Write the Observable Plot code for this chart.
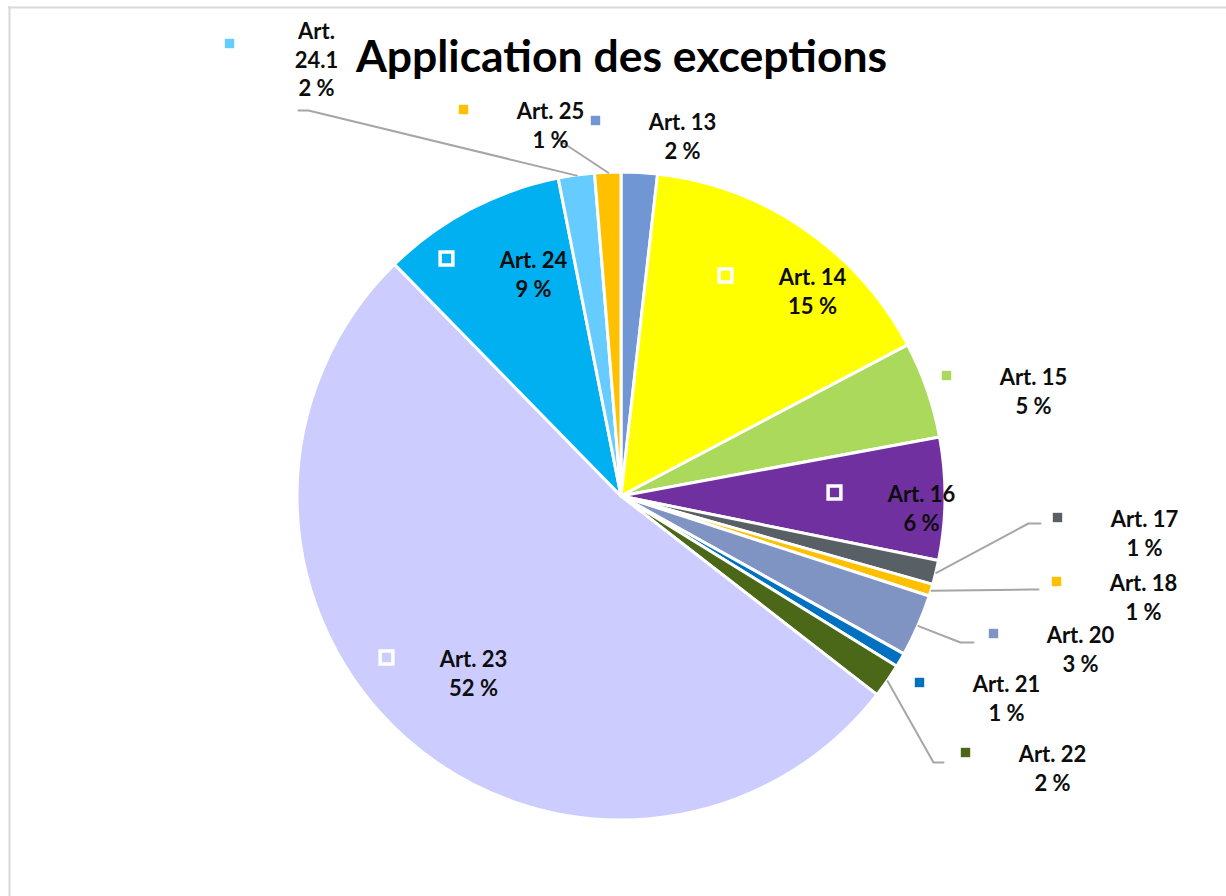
<!DOCTYPE html>
<html><head><meta charset="utf-8">
<script src="https://cdn.jsdelivr.net/npm/d3@7"></script>
<script src="https://cdn.jsdelivr.net/npm/@observablehq/plot@0.6"></script>
<style>html,body{margin:0;padding:0;background:#fff;overflow:hidden}</style>
</head><body><div id="chart"></div>
<script>
// ---- data ----
const title = "Application des exceptions";
const categories = ["Art. 13","Art. 14","Art. 15","Art. 16","Art. 17","Art. 18","Art. 20","Art. 21","Art. 22","Art. 23","Art. 24","Art. 24.1","Art. 25"];
const values = [1.8,15.45,4.8,6.1,1.2,0.6,3.1,0.7,1.7,52.1,9.2,1.8,1.3];
const colors = ["#7096d4","#ffff00","#aad95b","#7030a0","#596065","#ffc000","#8094c4","#0070c0","#4a6818","#ccccff","#00b0f0","#66ccff","#ffc000"];
const insideLabels = ["Art. 14","Art. 16","Art. 23","Art. 24"];

// ---- layout (frame units = pixels of the 1226x896 frame) ----
const W = 1226, H = 896;
const pieCenter = [621, 496], pieRadius = 324;
const labelPos = {
  "Art. 13": [682, 135], "Art. 14": [812, 290], "Art. 15": [1033, 390], "Art. 16": [921, 507],
  "Art. 17": [1144, 532], "Art. 18": [1143, 596], "Art. 20": [1080, 648], "Art. 21": [1006, 697],
  "Art. 22": [1052, 767], "Art. 23": [473, 672], "Art. 24": [533, 273], "Art. 24.1": [316, 58],
  "Art. 25": [550, 124]
};
const keyOffset = [-87, -15];
const leaderBends = {
  "Art. 24.1": [[308, 110], [298, 110]],
  "Art. 25": [[556, 138]],
  "Art. 17": [[1028, 523], [1040, 523]],
  "Art. 18": [[1028, 589], [1038, 589]],
  "Art. 20": [[960, 642], [973, 642]],
  "Art. 22": [[933, 762], [943, 762]]
};

// ---- derived tables ----
const total = d3.sum(values);
const rows = categories.map((c, i) => ({cat: c, value: values[i], color: colors[i], pct: Math.round(values[i] / total * 100)}));
const arcs = d3.pie().sort(null).value(d => d.value)(rows);

const labelRows = rows.map(r => {
  const [x, y] = labelPos[r.cat];
  const name = r.cat === "Art. 24.1" ? "Art.\n24.1" : r.cat;
  const nLines = r.cat === "Art. 24.1" ? 3 : 2;
  return {...r, x, y, text: name + "\n" + r.pct + " %", inside: insideLabels.includes(r.cat),
          kx: x + keyOffset[0], ky: y + (nLines === 3 ? -15 : keyOffset[1])};
});

const leaderRows = [];
for (const a of arcs) {
  const bends = leaderBends[a.data.cat];
  if (!bends) continue;
  const mid = (a.startAngle + a.endAngle) / 2;
  leaderRows.push({cat: a.data.cat, x: pieCenter[0] + pieRadius * Math.sin(mid), y: pieCenter[1] - pieRadius * Math.cos(mid)});
  for (const [x, y] of bends) leaderRows.push({cat: a.data.cat, x, y});
}

function pieMark(index, scales) {
  const cx = scales.x(pieCenter[0]), cy = scales.y(pieCenter[1]);
  const r = scales.x(pieCenter[0] + pieRadius) - cx;
  const arc = d3.arc().innerRadius(0).outerRadius(r);
  const g = d3.create("svg:g").attr("transform", `translate(${cx},${cy})`);
  g.selectAll("path").data(arcs).join("path")
    .attr("d", arc).attr("fill", d => d.data.color)
    .attr("stroke", "white").attr("stroke-width", 3).attr("stroke-linejoin", "round");
  return g.node();
}

const font = "Lato, 'Open Sans', sans-serif";
const chart = Plot.plot({
  width: W, height: H,
  margin: 0,
  x: {domain: [0, W], range: [0, W], axis: null},
  y: {domain: [0, H], range: [0, H], axis: null},
  style: {background: "white"},
  marks: [
    Plot.ruleY([7], {x1: 8, x2: W, stroke: "#d9d9d9", strokeWidth: 2}),
    Plot.ruleX([9], {y1: 6, y2: H, stroke: "#d9d9d9", strokeWidth: 2}),
    pieMark,
    Plot.line(leaderRows, {x: "x", y: "y", z: "cat", stroke: "#a6a6a6", strokeWidth: 2, curve: "linear"}),
    Plot.dot(labelRows.filter(d => !d.inside), {x: "kx", y: "ky", symbol: "square", r: 5.3, fill: "color", stroke: "none"}),
    Plot.dot(labelRows.filter(d => d.inside), {x: "kx", y: "ky", symbol: "square", r: 7.2, fill: "none", stroke: "white", strokeWidth: 3.5}),
    Plot.text(labelRows, {x: "x", y: "y", text: "text", fontSize: 22, fontWeight: "bold", fontFamily: font, lineHeight: 1.3, fill: "#0d0d0d"}),
    Plot.text([title], {x: () => 621, y: () => 57, text: d => d, fontSize: 44.5, fontWeight: "bold", fontFamily: font, fill: "#000"})
  ]
});
document.getElementById("chart").appendChild(chart);
</script>
</body></html>
